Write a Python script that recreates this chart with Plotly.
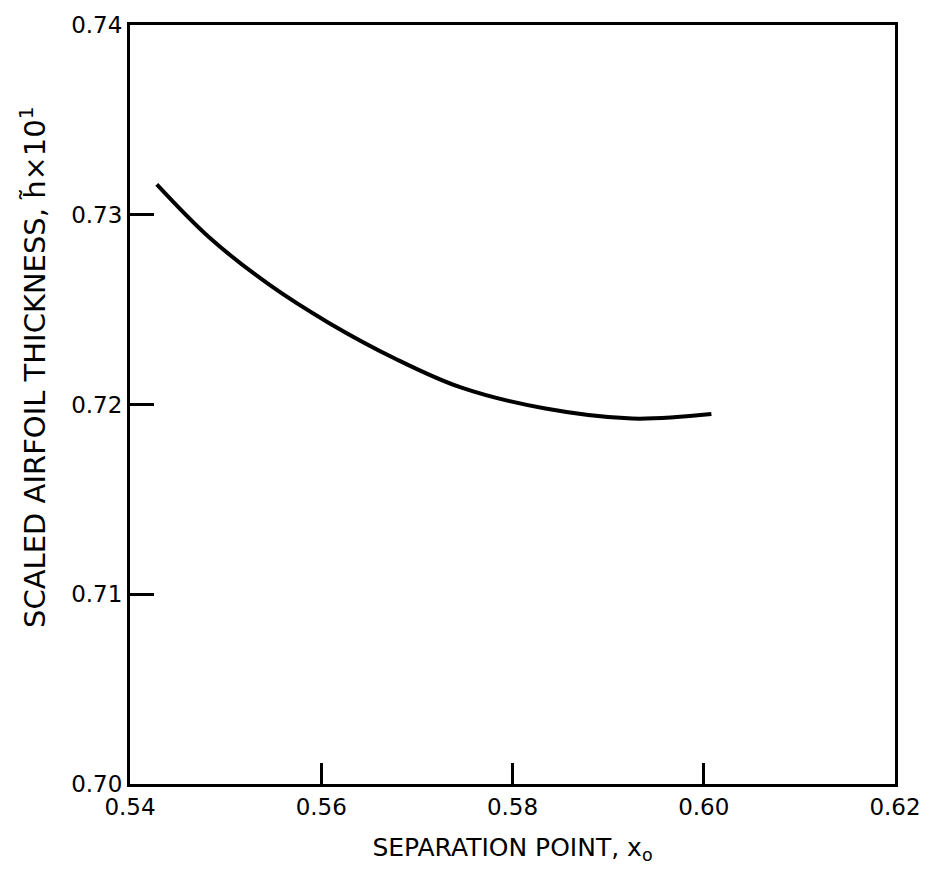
import plotly.graph_objects as go

# Separation point vs. scaled airfoil thickness (h~ x 10^1)
x_sep = [0.5428, 0.5483, 0.5546, 0.5608, 0.5678, 0.5746, 0.5833, 0.5925, 0.6008]
h_scaled = [0.7316, 0.7288, 0.7263, 0.7243, 0.7224, 0.7209, 0.7198, 0.71926, 0.7195]

x_ticks = [0.54, 0.56, 0.58, 0.60, 0.62]
y_ticks = [0.70, 0.71, 0.72, 0.73, 0.74]

FONT = "DejaVu Sans, Liberation Sans, Arial, sans-serif"

fig = go.Figure()
fig.add_trace(go.Scatter(
    x=x_sep, y=h_scaled, mode="lines",
    line=dict(color="black", width=4, shape="spline", smoothing=1.0),
    showlegend=False, hoverinfo="skip",
))

axis_common = dict(
    showgrid=False, zeroline=False,
    showline=True, linecolor="black", linewidth=3, mirror=True,
    ticks="inside", tickcolor="black", tickwidth=2.5,
    tickfont=dict(family=FONT, size=23, color="black"),
)

fig.update_xaxes(
    range=[0.54, 0.62], tickvals=x_ticks,
    ticktext=[f"{v:.2f}" for v in x_ticks], ticklen=21,
    title=dict(text="SEPARATION POINT, x<sub>o</sub>",
               font=dict(family=FONT, size=25, color="black"), standoff=20),
    **axis_common,
)
fig.update_yaxes(
    range=[0.70, 0.74], tickvals=y_ticks,
    ticktext=[f"{v:.2f}" for v in y_ticks], ticklen=24,
    **axis_common,
)

# vertical axis title, drawn as a rotated annotation so it can sit a bit high
fig.add_annotation(
    text="SCALED AIRFOIL THICKNESS, h\u0303\u00d710<sup>1</sup>",
    xref="paper", yref="paper", x=-0.126, y=0.549,
    xanchor="center", yanchor="middle", textangle=-90, showarrow=False,
    font=dict(family=FONT, size=29, color="black"),
)

fig.update_layout(
    width=933, height=880,
    margin=dict(l=130, r=33, t=22, b=96),
    paper_bgcolor="white", plot_bgcolor="white",
)

fig.write_html("out.html")
